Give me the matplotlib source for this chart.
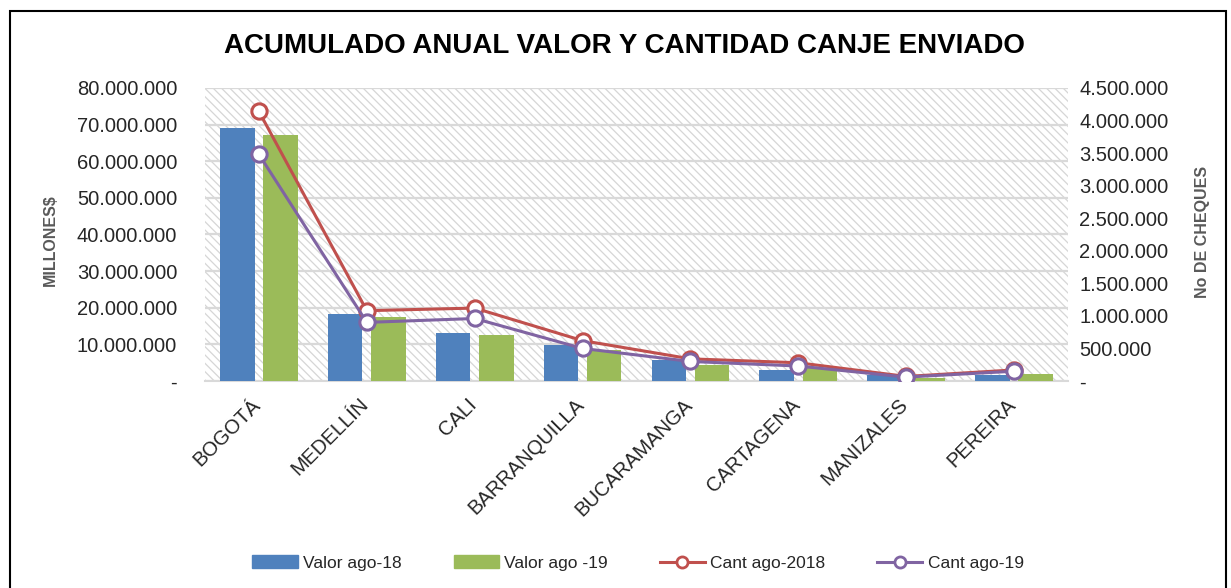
import matplotlib
matplotlib.use("Agg")
import matplotlib.pyplot as plt
import numpy as np
from matplotlib.patches import Rectangle
from matplotlib.lines import Line2D
from matplotlib.ticker import FuncFormatter, MultipleLocator
from matplotlib.transforms import ScaledTranslation

ciudades = ["BOGOTÁ", "MEDELLÍN", "CALI", "BARRANQUILLA", "BUCARAMANGA",
            "CARTAGENA", "MANIZALES", "PEREIRA"]
valor_ago18 = [69.2e6, 18.4e6, 13.1e6, 9.7e6, 5.8e6, 3.0e6, 1.6e6, 1.7e6]
valor_ago19 = [67.2e6, 17.5e6, 12.6e6, 8.6e6, 4.5e6, 3.5e6, 0.9e6, 1.9e6]
cant_ago2018 = [4.14e6, 1.08e6, 1.12e6, 0.62e6, 0.34e6, 0.28e6, 0.07e6, 0.17e6]
cant_ago19 = [3.48e6, 0.90e6, 0.96e6, 0.50e6, 0.30e6, 0.23e6, 0.06e6, 0.15e6]

W, H = 1231, 588
plt.rcParams['font.family'] = ['Liberation Sans', 'DejaVu Sans']
plt.rcParams['hatch.linewidth'] = 0.9
plt.rcParams['hatch.color'] = '#d6d6d6'

fig = plt.figure(figsize=(W / 100, H / 100), dpi=100)
left, right, top, bottom = 205, 1068, 88, 381
ax = fig.add_axes([left / W, 1 - bottom / H, (right - left) / W, (bottom - top) / H])

# Outer border
fig.patches.append(Rectangle((10 / W, -0.05), (1226 - 10) / W, 1.05 - 11 / H,
                             transform=fig.transFigure, fill=False,
                             edgecolor='black', linewidth=1.5))

n = len(ciudades)
x = np.arange(n)
ax.set_xlim(-0.5, n - 0.5)
ax.set_ylim(0, 80e6)

# hatched background
ax.add_patch(Rectangle((0, 0), 1, 1, transform=ax.transAxes, facecolor='white',
                       edgecolor='#d6d6d6', hatch='\\\\\\\\', linewidth=0, zorder=0))

ax.yaxis.set_major_locator(MultipleLocator(10e6))
ax.grid(axis='y', color='#d9d9d9', linewidth=1.6, zorder=1)
ax.set_axisbelow(False)

w = 0.32
ax.bar(x - 0.2, valor_ago18, w, color='#4f81bd', zorder=3)
ax.bar(x + 0.2, valor_ago19, w, color='#9bbb59', zorder=3)

def fmt(v, pos):
    if abs(v) < 1:
        return "-"
    return f"{int(round(v)):,}".replace(",", ".")

ax.yaxis.set_major_formatter(FuncFormatter(fmt))
ax.tick_params(axis='y', length=0, labelsize=14.5, pad=20, labelcolor='#262626')
ax.set_xticks(x)
ax.set_xticklabels(ciudades, rotation=45, ha='right', rotation_mode='anchor',
                   fontsize=14.5, color='#262626')
ax.tick_params(axis='x', length=0, pad=10)
shift = ScaledTranslation(-8 / 100, 0, fig.dpi_scale_trans)
for lab in ax.get_xticklabels():
    lab.set_transform(lab.get_transform() + shift)
for s in ['top', 'left', 'right']:
    ax.spines[s].set_visible(False)
ax.spines['bottom'].set_color('#d9d9d9')
ax.spines['bottom'].set_linewidth(1.5)

ax2 = ax.twinx()
ax2.set_ylim(0, 4.5e6)
ax2.yaxis.set_major_locator(MultipleLocator(0.5e6))
ax2.yaxis.set_major_formatter(FuncFormatter(fmt))
ax2.tick_params(axis='y', length=0, labelsize=14.5, pad=8, labelcolor='#262626')
for s in ['top', 'left', 'right', 'bottom']:
    ax2.spines[s].set_visible(False)

ax2.plot(x, cant_ago2018, color='#c0504d', linewidth=2.2, marker='o', markersize=11,
         markerfacecolor='white', markeredgewidth=2.2, zorder=4)
ax2.plot(x, cant_ago19, color='#8064a2', linewidth=2.2, marker='o', markersize=11,
         markerfacecolor='white', markeredgewidth=2.2, zorder=4)

fig.text(624 / W, 1 - 46 / H, "ACUMULADO ANUAL VALOR Y CANTIDAD CANJE ENVIADO",
         ha='center', va='center', fontsize=20, fontweight='bold', color='black')
fig.text(50 / W, 1 - 240 / H, "MILLONES$", rotation=90, ha='center', va='center',
         fontsize=11.5, fontweight='bold', color='#595959')
fig.text(1203 / W, 1 - 232 / H, "No DE CHEQUES", rotation=90, ha='center', va='center',
         fontsize=11.5, fontweight='bold', color='#595959')

handles = [
    Rectangle((0, 0), 1, 1, color='#4f81bd'),
    Rectangle((0, 0), 1, 1, color='#9bbb59'),
    Line2D([], [], color='#c0504d', linewidth=2.2, marker='o', markersize=8,
           markerfacecolor='white', markeredgewidth=2),
    Line2D([], [], color='#8064a2', linewidth=2.2, marker='o', markersize=8,
           markerfacecolor='white', markeredgewidth=2),
]
labels = ["Valor ago-18", "Valor ago -19", "Cant ago-2018", "Cant ago-19"]
fig.legend(handles, labels, loc='center', bbox_to_anchor=(638 / W, 1 - 563 / H),
           ncol=4, frameon=False, fontsize=12.5, handlelength=2.6,
           handletextpad=0.3, columnspacing=3.0, labelcolor='#262626')

fig.savefig("out.png", dpi=100)
